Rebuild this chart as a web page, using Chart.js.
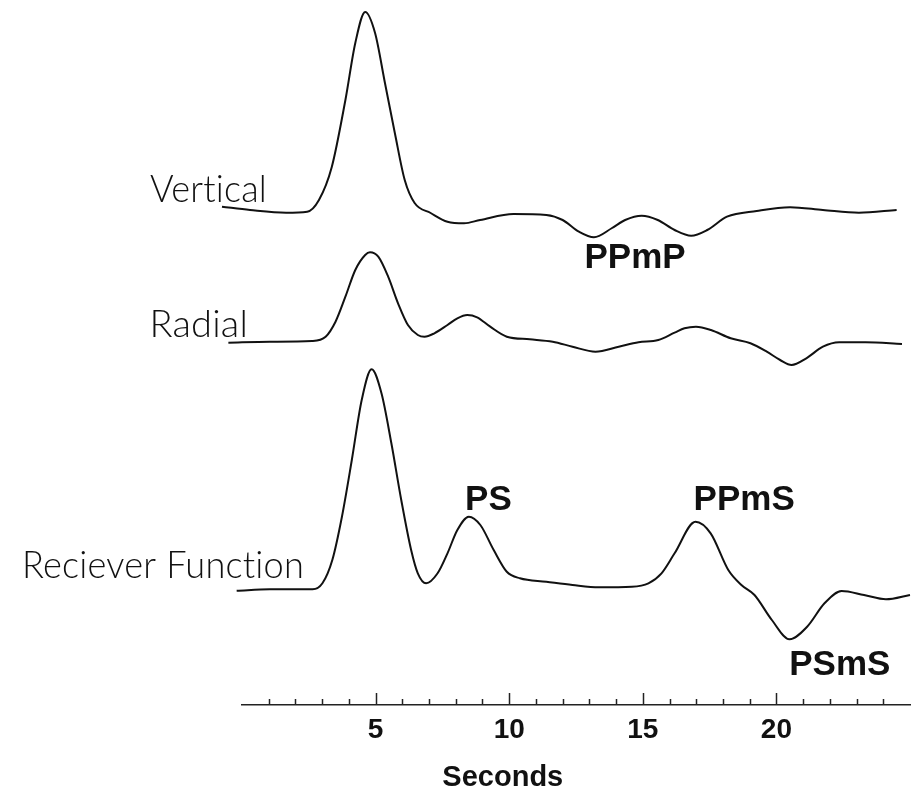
<!DOCTYPE html>
<html>
<head>
<meta charset="utf-8">
<script src="https://cdn.jsdelivr.net/npm/chart.js@4.4.1/dist/chart.umd.min.js"></script>
<style>
html, body { margin: 0; padding: 0; background: #fff; }
#contenedor { width: 918px; height: 797px; position: relative; }
</style>
</head>
<body>
<div id="contenedor"><canvas id="grafico"></canvas></div>
<script>
// tiempos (s) y amplitudes
var verticalT = [-0.75, 0.30, 1.65, 2.44, 2.88, 3.36, 3.87, 4.24, 4.61, 4.98, 5.35, 5.72, 6.09, 6.46, 7.06, 7.69, 8.31, 8.91, 10.16, 11.39, 12.00, 12.61, 13.17, 13.85, 14.34, 14.96, 15.56, 16.19, 16.81, 17.41, 18.15, 19.26, 20.51, 21.74, 23.09, 24.50];
var verticalA = [0.053, 0.02, -0.007, 0.003, 0.12, 0.45, 1.12, 1.69, 2.00, 1.79, 1.29, 0.79, 0.32, 0.09, -0.01, -0.097, -0.113, -0.08, -0.02, -0.03, -0.08, -0.197, -0.253, -0.16, -0.08, -0.037, -0.08, -0.18, -0.237, -0.18, -0.047, 0.01, 0.047, 0.02, -0.007, 0.02];

var radialT = [-0.51, 1.04, 2.62, 3.13, 3.50, 3.87, 4.24, 4.61, 4.79, 5.10, 5.47, 5.84, 6.21, 6.58, 6.83, 7.20, 7.69, 8.06, 8.43, 8.80, 9.29, 9.91, 10.77, 11.63, 12.37, 13.23, 14.10, 14.84, 15.58, 16.19, 16.56, 16.99, 17.55, 18.29, 19.03, 19.64, 20.14, 20.57, 21.12, 21.74, 22.35, 23.34, 24.70];
var radialA = [-0.007, 0.003, 0.01, 0.053, 0.203, 0.453, 0.72, 0.87, 0.897, 0.853, 0.653, 0.387, 0.17, 0.07, 0.053, 0.087, 0.17, 0.237, 0.27, 0.247, 0.153, 0.053, 0.027, 0.003, -0.047, -0.097, -0.047, -0.003, 0.02, 0.093, 0.137, 0.153, 0.12, 0.037, -0.013, -0.097, -0.18, -0.23, -0.163, -0.047, -0.003, -0.003, -0.02];

var receptorT = [-0.20, 1.04, 2.64, 3.01, 3.38, 3.74, 4.11, 4.48, 4.85, 5.22, 5.59, 5.96, 6.33, 6.58, 6.89, 7.32, 7.69, 8.06, 8.49, 8.92, 9.42, 9.91, 10.40, 11.39, 12.37, 13.36, 14.59, 15.21, 15.70, 16.19, 16.97, 17.54, 18.20, 18.69, 19.18, 19.83, 20.49, 21.15, 21.80, 22.44, 23.28, 24.10, 25.00];
var receptorA = [-0.007, 0.007, 0.007, 0.067, 0.30, 0.733, 1.30, 1.90, 2.207, 1.967, 1.467, 0.90, 0.40, 0.167, 0.067, 0.167, 0.367, 0.60, 0.733, 0.65, 0.40, 0.183, 0.117, 0.083, 0.05, 0.027, 0.033, 0.067, 0.167, 0.367, 0.683, 0.567, 0.20, 0.05, -0.05, -0.30, -0.493, -0.367, -0.133, -0.01, -0.05, -0.093, -0.05];

var nombresTraza = ['Vertical', 'Radial', 'Reciever Function'];
var desplazamiento = [4.93, 3.63, 1.15]; // linea base de cada traza

var fases = ['PPmP', 'PS', 'PPmS', 'PSmS'];
var fasesT = [14.71, 8.35, 16.9, 20.48];
var fasesY = [4.37, 1.95, 1.95, 0.30];

var etiquetasEje = [5, 10, 15, 20];

function armarTraza(t, a, off) {
    var pts = [];
    for (var i = 0; i < t.length; i++) {
        pts.push({ x: t[i], y: off + a[i] });
    }
    return pts;
}

var marcas = {
    id: 'marcas',
    afterDraw: function (chart) {
        var ctx = chart.ctx;
        var xs = chart.scales.x;
        var ys = chart.scales.y;
        var y0 = chart.chartArea.bottom;
        ctx.save();
        // ticks hacia arriba
        ctx.strokeStyle = '#222';
        ctx.lineWidth = 1.5;
        for (var v = 1; v <= 24; v++) {
            var px = Math.round(xs.getPixelForValue(v)) + 0.5;
            var largo = (v % 5 === 0) ? 12 : 6;
            ctx.beginPath();
            ctx.moveTo(px, y0);
            ctx.lineTo(px, y0 - largo);
            ctx.stroke();
        }
        // nombres de las trazas
        ctx.fillStyle = '#111';
        ctx.textAlign = 'right';
        ctx.textBaseline = 'alphabetic';
        ctx.font = '300 38px Lato';
        ctx.letterSpacing = '0.2px'; // evita la ligadura "ti"
        var derecha = [267, 248, 304];
        var subir = [10, 5, 12];
        var ancho = [117, 102, 282];
        for (var i = 0; i < nombresTraza.length; i++) {
            var by = ys.getPixelForValue(desplazamiento[i]) - subir[i];
            ctx.fillText(nombresTraza[i], derecha[i], by, ancho[i]);
        }
        ctx.letterSpacing = '0px';
        // fases
        ctx.font = 'bold 35px "Liberation Sans"';
        for (var j = 0; j < fases.length; j++) {
            ctx.textAlign = (j === 0) ? 'center' : 'left';
            ctx.fillText(fases[j], xs.getPixelForValue(fasesT[j]), ys.getPixelForValue(fasesY[j]));
        }
        // titulo del eje
        ctx.textAlign = 'center';
        ctx.font = 'bold 29px "Liberation Sans"';
        ctx.fillText('Seconds', xs.getPixelForValue(9.76), 786);
        ctx.restore();
    }
};

var estilo = {
    borderColor: '#111',
    borderWidth: 2,
    pointRadius: 0,
    fill: false,
    cubicInterpolationMode: 'monotone',
    clip: false
};

var ctx = document.getElementById('grafico').getContext('2d');
var chart = new Chart(ctx, {
    type: 'line',
    data: {
        datasets: [
            Object.assign({ label: nombresTraza[0], data: armarTraza(verticalT, verticalA, desplazamiento[0]) }, estilo),
            Object.assign({ label: nombresTraza[1], data: armarTraza(radialT, radialA, desplazamiento[1]) }, estilo),
            Object.assign({ label: nombresTraza[2], data: armarTraza(receptorT, receptorA, desplazamiento[2]) }, estilo)
        ]
    },
    options: {
        responsive: true,
        maintainAspectRatio: false,
        animation: false,
        devicePixelRatio: 1,
        layout: { autoPadding: false, padding: { left: 242, right: 0, top: 0, bottom: 0 } },
        plugins: { legend: { display: false }, tooltip: { enabled: false } },
        scales: {
            x: {
                type: 'linear',
                min: 0,
                max: 25,
                grid: { display: false, drawTicks: false },
                border: { display: true, color: '#222', width: 1.6 },
                ticks: {
                    stepSize: 1,
                    autoSkip: false,
                    maxRotation: 0,
                    includeBounds: false,
                    padding: 8,
                    color: '#111',
                    font: { family: 'Liberation Sans', weight: 'bold', size: 28 },
                    callback: function (v) {
                        return etiquetasEje.indexOf(v) >= 0 ? String(v) : '';
                    }
                },
                afterFit: function (s) { s.height = 92; }
            },
            y: { display: false, min: 0, max: 7.05 }
        }
    },
    plugins: [marcas]
});
</script>
</body>
</html>
